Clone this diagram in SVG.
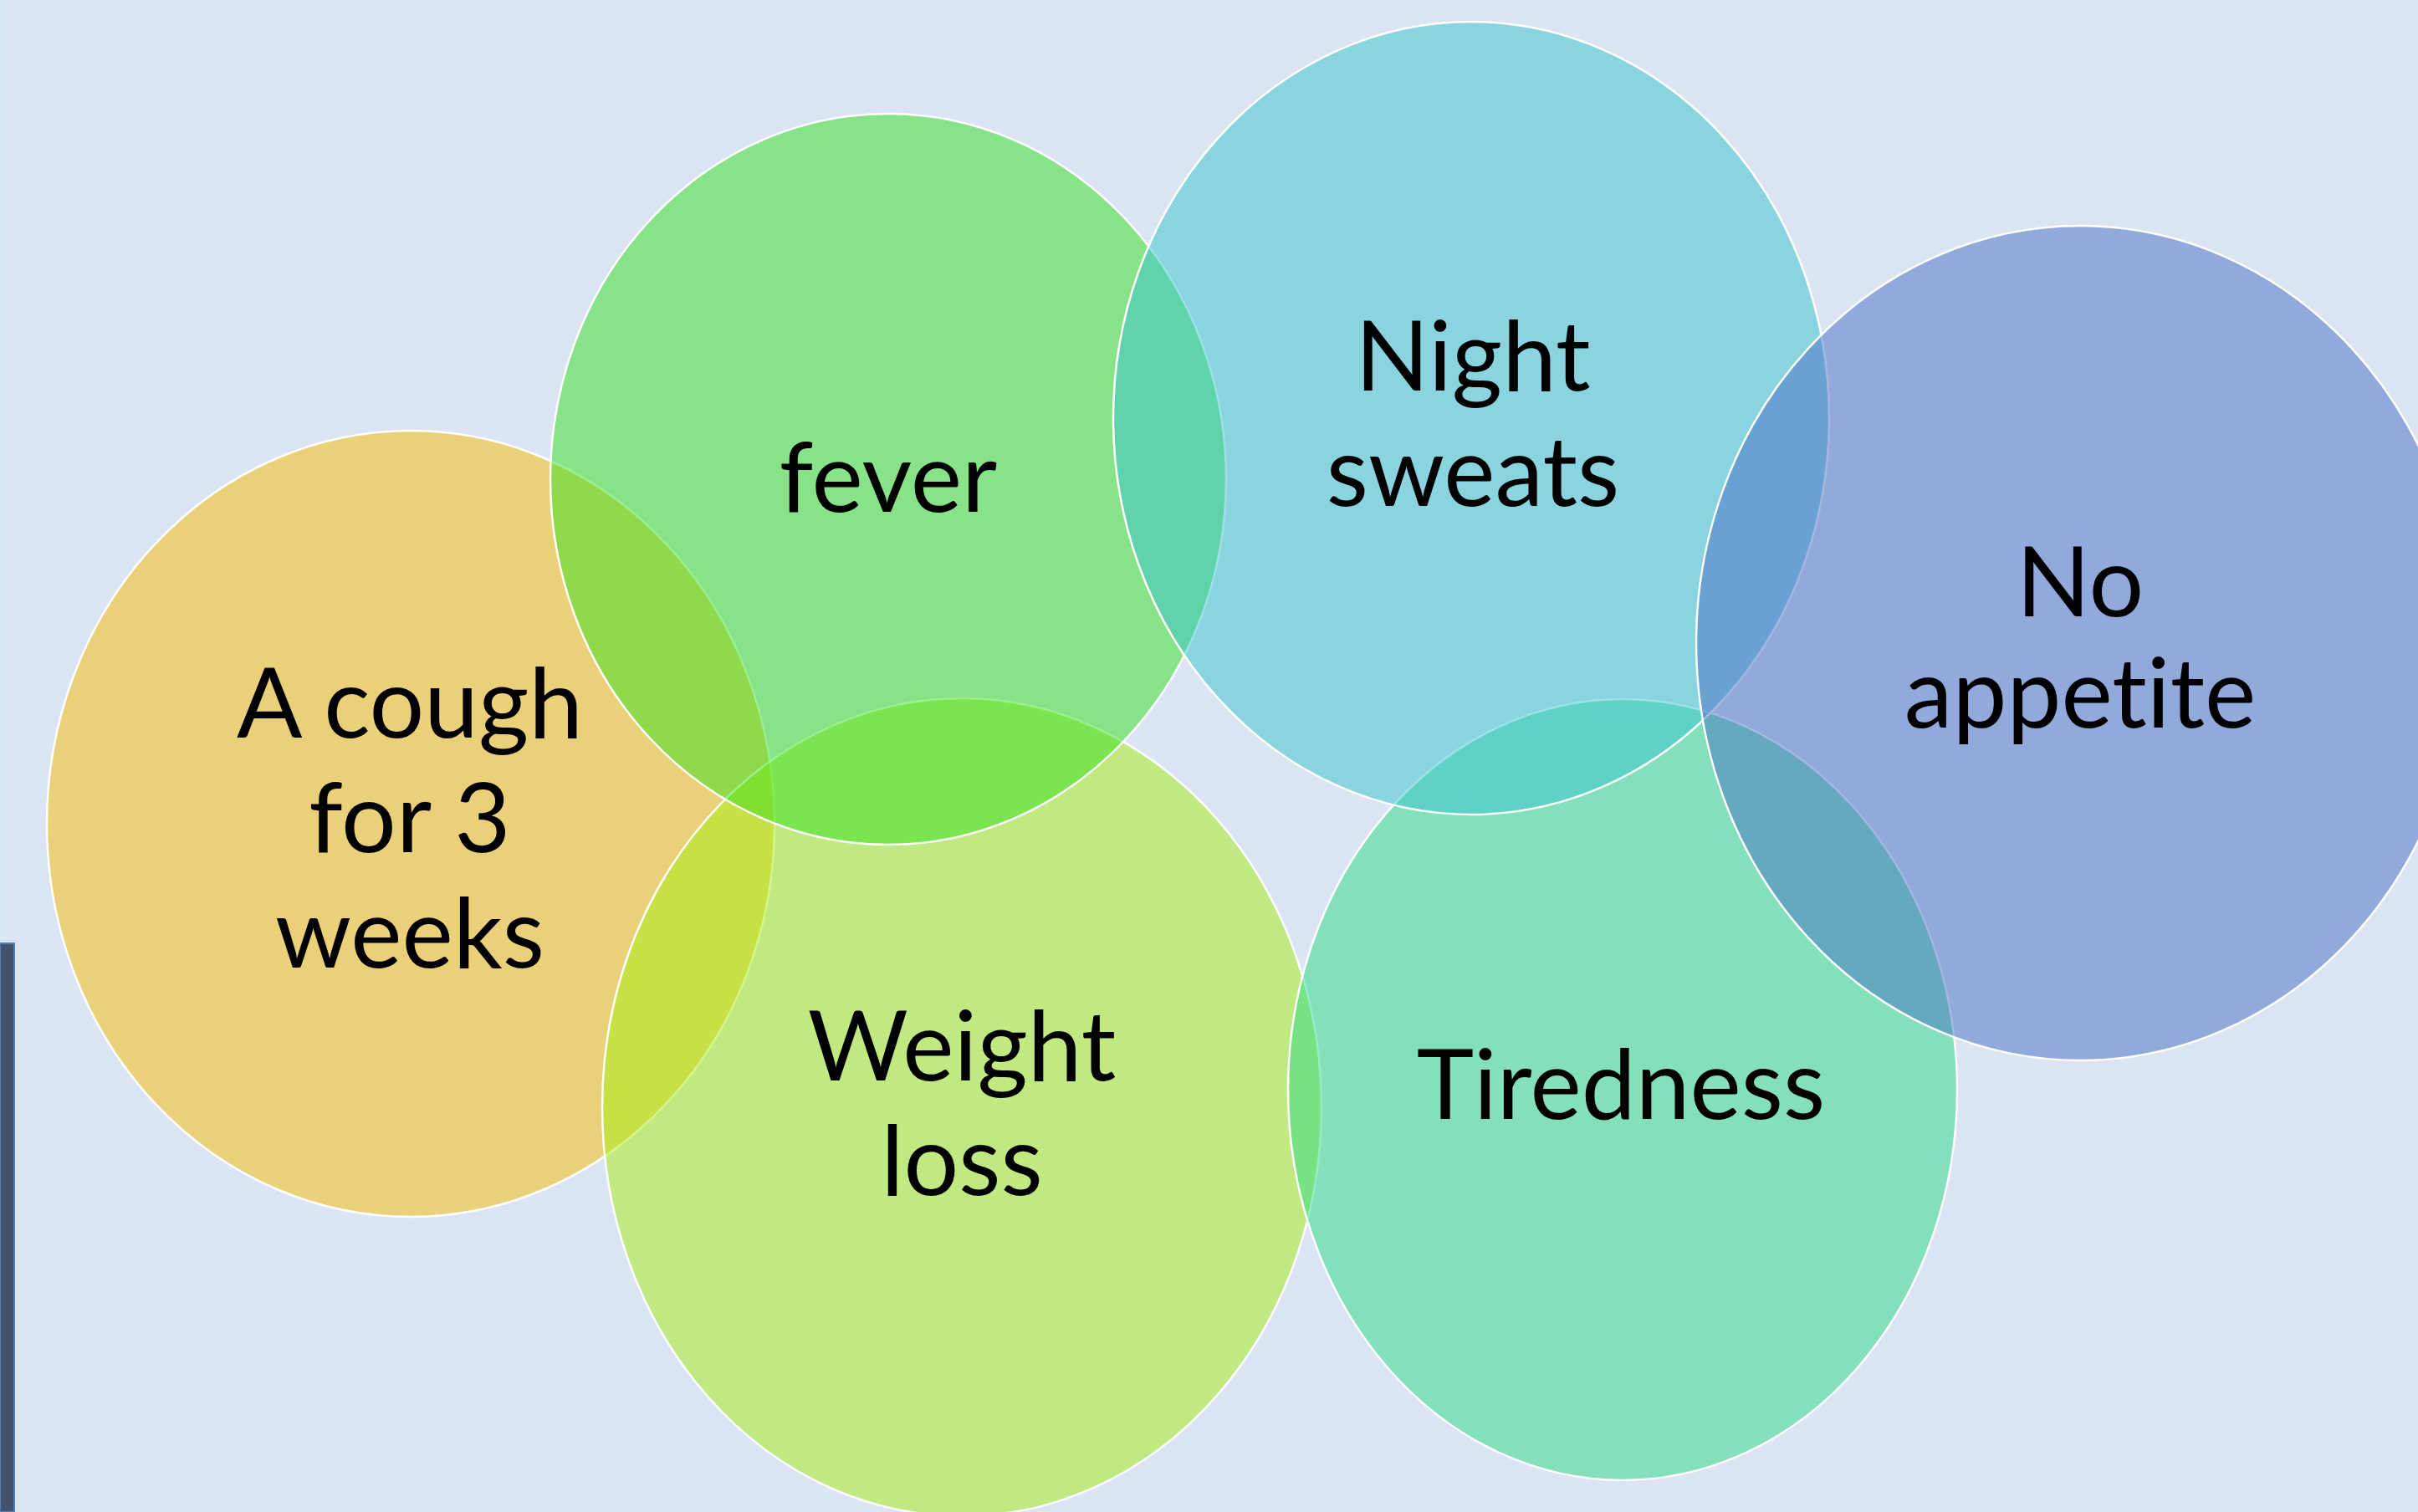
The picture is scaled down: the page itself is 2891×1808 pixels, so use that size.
<svg xmlns="http://www.w3.org/2000/svg" width="2891" height="1808" viewBox="0 0 2891 1808">
<style>
.c{fill-opacity:0.5;stroke:#ffffff;stroke-width:2.5}
.t{font-family:Lato,"Liberation Sans",sans-serif;font-size:116px;fill:#000000;text-anchor:middle;font-variant-ligatures:none;font-feature-settings:"liga" 0}
</style>
<rect x="0" y="0" width="2891" height="1808" fill="#dbe4f3"/>
<rect x="0" y="0" width="10" height="1128" fill="#d9e6f4"/>
<rect x="0" y="1128" width="17" height="680" fill="#42526a" stroke="#4f7fb5" stroke-width="2"/>
<g id="cough">
<ellipse class="c" cx="491" cy="985" rx="435" ry="470" fill="#fbbc01"/>
<text class="t" x="490" y="882">A cough</text>
<text class="t" x="490" y="1019">for 3</text>
<text class="t" x="490" y="1157">weeks</text>
</g>
<g id="weight-loss">
<ellipse class="c" cx="1150" cy="1324" rx="430" ry="489" fill="#a7ee11"/>
<text class="t" x="1150" y="1292">Weight</text>
<text class="t" x="1150" y="1429">loss</text>
</g>
<g id="fever">
<ellipse class="c" cx="1062" cy="573" rx="404" ry="437" fill="#35e21d"/>
<text class="t" x="1062" y="612">fever</text>
</g>
<g id="tiredness">
<ellipse class="c" cx="1940" cy="1303" rx="400" ry="467" fill="#2bdc83"/>
<text class="t" x="1938" y="1338">Tiredness</text>
</g>
<g id="night-sweats">
<ellipse class="c" cx="1759" cy="500" rx="428" ry="474" fill="#39c4cd"/>
<text class="t" x="1761" y="467">Night</text>
<text class="t" x="1761" y="605">sweats</text>
</g>
<g id="no-appetite">
<ellipse class="c" cx="2487" cy="769" rx="459" ry="499" fill="#4770c3"/>
<text class="t" x="2487" y="737">No</text>
<text class="t" x="2487" y="870">appetite</text>
</g>
<g id="connectors"/>
</svg>
